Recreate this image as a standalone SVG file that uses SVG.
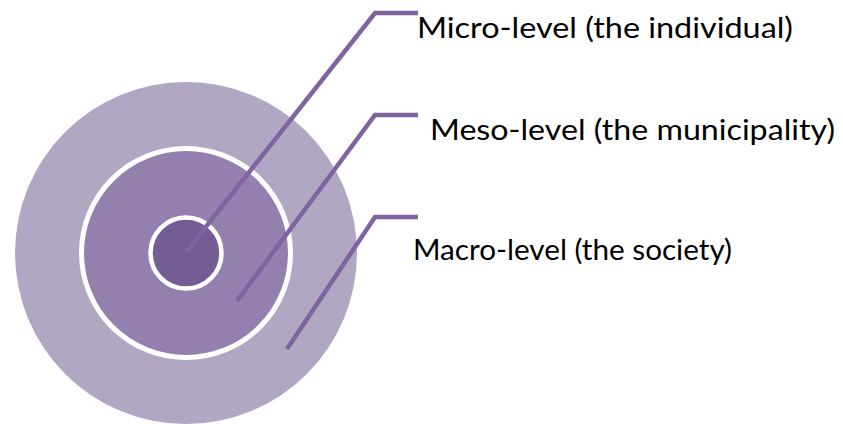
<svg xmlns="http://www.w3.org/2000/svg" width="843" height="424" viewBox="0 0 843 424">
<style>
.lbl{font-family:Lato,"Open Sans","Liberation Sans",sans-serif;font-size:28px;fill:#000}
.ln{fill:none;stroke:#8064A2;stroke-width:4.5;stroke-linejoin:miter}
</style>
<rect width="843" height="424" fill="#fff"/>
<g id="macro"><circle cx="186" cy="253" r="171" fill="#B1A7C3"/></g>
<g id="meso"><circle cx="186" cy="253" r="104.5" fill="#9380AE" stroke="#fff" stroke-width="5"/></g>
<g id="micro"><circle cx="186" cy="253" r="35.5" fill="#765C95" stroke="#fff" stroke-width="4.5"/></g>
<g id="connectors">
<polyline class="ln" points="186,252 375,13 418,13"/>
<polyline class="ln" points="237,301 375,115 418,115"/>
<polyline class="ln" points="287,349 375,217 418,217"/>
</g>
<g id="labels">
<text class="lbl" x="417" y="38" textLength="376" lengthAdjust="spacingAndGlyphs">Micro-level (the individual)</text>
<text class="lbl" x="430" y="140" textLength="405" lengthAdjust="spacingAndGlyphs">Meso-level (the municipality)</text>
<text class="lbl" x="413" y="260" textLength="319" lengthAdjust="spacingAndGlyphs">Macro-level (the society)</text>
</g>
</svg>
